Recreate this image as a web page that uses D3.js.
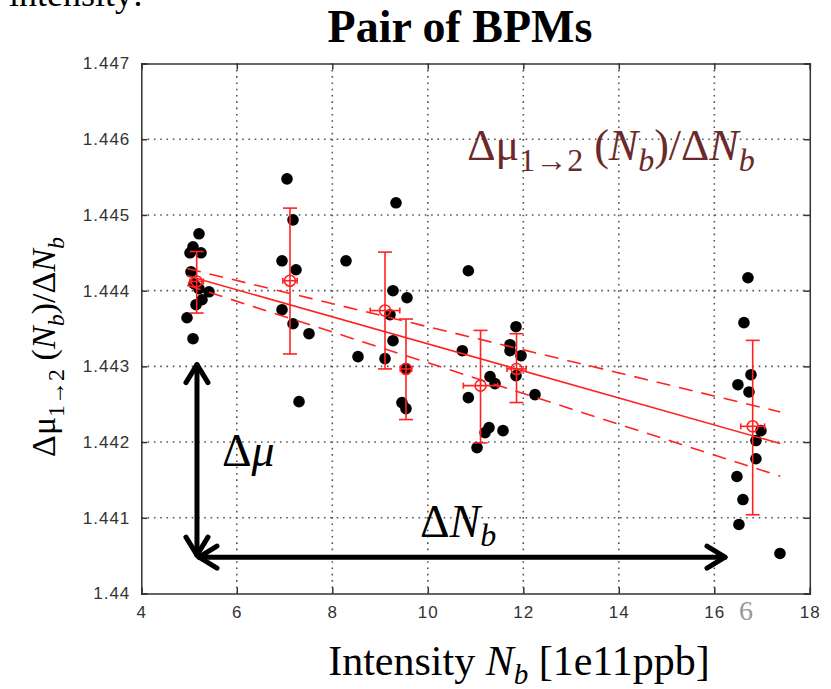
<!DOCTYPE html>
<html><head><meta charset="utf-8">
<script src="https://cdn.jsdelivr.net/npm/d3@7"></script>
<style>body{margin:0;background:#fff}svg{display:block}</style>
</head><body><svg id="c" width="831" height="689"></svg>
<script>
// ---- data ----
const xTicks = [4, 6, 8, 10, 12, 14, 16, 18];
const yTicks = [1.440, 1.441, 1.442, 1.443, 1.444, 1.445, 1.446, 1.447];
const pointX = [5.208,5.083,5.020,5.250,5.041,5.104,5.208,5.418,5.271,5.146,4.957,5.083,
  7.051,7.177,6.947,7.240,6.947,7.177,7.512,7.303,8.287,8.538,
  9.334,9.271,9.564,9.208,9.271,9.104,9.459,9.543,9.543,
  10.849,10.723,10.849,11.303,11.408,11.199,11.282,11.575,11.031,
  11.847,11.722,11.722,11.952,11.847,12.245,
  16.705,16.621,16.768,16.495,16.726,16.977,16.872,16.872,16.474,16.600,16.516,17.375];
const pointY = [1.444751,1.444579,1.444500,1.444500,1.444249,1.444091,1.444025,1.443985,1.443880,1.443814,1.443642,1.443365,
  1.445476,1.444935,1.444394,1.444276,1.443748,1.443563,1.443431,1.442534,1.444394,1.443128,
  1.445160,1.443999,1.443906,1.443682,1.443339,1.443102,1.442521,1.442442,1.442970,
  1.444263,1.443207,1.442587,1.442864,1.442772,1.442125,1.442191,1.442151,1.441927,
  1.443524,1.443286,1.443207,1.443141,1.442877,1.442627,
  1.444170,1.443577,1.442890,1.442758,1.442662,1.442151,1.442020,1.441780,1.441545,1.441241,1.440912,1.440529];
const meanX   = [5.160, 7.114, 9.104, 9.543, 11.104, 11.858, 16.804];
const meanY   = [1.444121, 1.444131, 1.443737, 1.442966, 1.442745, 1.442966, 1.442208];
const errTop  = [1.444517, 1.445090, 1.444509, 1.443625, 1.443475, 1.443431, 1.443343];
const errBot  = [1.443704, 1.443164, 1.442966, 1.442297, 1.441989, 1.442522, 1.441040];
const xErr    = [0.14, 0.15, 0.31, 0.12, 0.36, 0.20, 0.25];
const fitX    = [4.96, 17.38];
const fitY    = [1.444197, 1.441980];
const upperY  = [1.444292, 1.442398];
const lowerY  = [1.444071, 1.441549];
const arrowX  = [5.166, 16.266];
const arrowY  = [1.443049, 1.440480];

// ---- scales ----
const svg = d3.select('#c');
svg.append('rect').attr('width',831).attr('height',689).attr('fill','#fff');
const x = d3.scaleLinear().domain([4,18]).range([141.3,809.8]);
const y = d3.scaleLinear().domain([1.440,1.447]).range([593.5,63.5]);
const red = '#ff2222';

// grid
const grid = svg.append('g').attr('stroke','#555').attr('stroke-width',1.6).attr('stroke-dasharray','1.6,4.7');
grid.selectAll('.gx').data(xTicks.slice(1,-1)).join('line')
  .attr('x1',d=>x(d)).attr('x2',d=>x(d)).attr('y1',y(1.447)).attr('y2',y(1.440));
grid.selectAll('.gy').data(yTicks.slice(1,-1)).join('line')
  .attr('y1',d=>y(d)).attr('y2',d=>y(d)).attr('x1',x(4)).attr('x2',x(18));

// axes
const fmtY = d => String(+d.toFixed(3));
const axStyle = g => {
  g.select('.domain').attr('stroke','#333').attr('stroke-width',1.5);
  g.selectAll('.tick line').attr('stroke','#333').attr('stroke-width',1.5);
  g.selectAll('text').attr('font-family','Liberation Sans, Arial, sans-serif').attr('font-size',17)
    .attr('letter-spacing',1).attr('fill','#333');
};
svg.append('g').attr('transform',`translate(0,${y(1.440)})`)
  .call(d3.axisBottom(x).tickValues(xTicks).tickSize(-6).tickPadding(12).tickFormat(d3.format('d'))).call(axStyle);
svg.append('g').attr('transform',`translate(0,${y(1.447)})`)
  .call(d3.axisTop(x).tickValues(xTicks).tickSize(-6).tickFormat('')).call(axStyle);
svg.append('g').attr('transform',`translate(${x(4)},0)`)
  .call(d3.axisLeft(y).tickValues(yTicks).tickSize(-6).tickPadding(11).tickFormat(fmtY)).call(axStyle);
svg.append('g').attr('transform',`translate(${x(18)},0)`)
  .call(d3.axisRight(y).tickValues(yTicks).tickSize(-6).tickFormat('')).call(axStyle);

// points
svg.append('g').selectAll('circle').data(pointX.map((d,i)=>[d,pointY[i]])).join('circle')
  .attr('cx',d=>x(d[0])).attr('cy',d=>y(d[1])).attr('r',5.8).attr('fill','#000');

// fit lines
const line = d3.line().x(d=>x(d[0])).y(d=>y(d[1]));
const fl = svg.append('g').attr('fill','none').attr('stroke',red).attr('stroke-width',1.6);
fl.append('path').attr('d', line(fitX.map((d,i)=>[d,fitY[i]])));
fl.append('path').attr('d', line(fitX.map((d,i)=>[d,upperY[i]]))).attr('stroke-dasharray','14,9');
fl.append('path').attr('d', line(fitX.map((d,i)=>[d,lowerY[i]]))).attr('stroke-dasharray','14,9');

// error bars
const eb = svg.append('g').attr('stroke',red).attr('stroke-width',1.6).attr('fill','none');
meanX.forEach((mx,i)=>{
  const cx=x(mx), cy=y(meanY[i]), t=y(errTop[i]), b=y(errBot[i]);
  eb.append('line').attr('x1',cx).attr('x2',cx).attr('y1',t).attr('y2',b);
  eb.append('line').attr('x1',cx-7).attr('x2',cx+7).attr('y1',t).attr('y2',t);
  eb.append('line').attr('x1',cx-7).attr('x2',cx+7).attr('y1',b).attr('y2',b);
  const l=x(mx-xErr[i]), r=x(mx+xErr[i]);
  eb.append('line').attr('x1',l).attr('x2',r).attr('y1',cy).attr('y2',cy);
  eb.append('line').attr('x1',l).attr('x2',l).attr('y1',cy-3).attr('y2',cy+3);
  eb.append('line').attr('x1',r).attr('x2',r).attr('y1',cy-3).attr('y2',cy+3);
  eb.append('circle').attr('cx',cx).attr('cy',cy).attr('r',5.5);
});

// arrows
const ar = svg.append('g').attr('stroke','#000').attr('stroke-width',5).attr('fill','none')
  .attr('stroke-linecap','round').attr('stroke-linejoin','round');
const ax0=x(arrowX[0]), ax1=x(arrowX[1]), ayT=y(arrowY[0]), ayB=y(arrowY[1]);
ar.append('line').attr('x1',ax0).attr('x2',ax0).attr('y1',ayT+2).attr('y2',ayB-2);
ar.append('line').attr('x1',ax0+2).attr('x2',ax1-2).attr('y1',ayB).attr('y2',ayB);
ar.append('path').attr('d',`M${ax0-11},${ayT+20}L${ax0},${ayT+2}L${ax0+11},${ayT+20}`);
ar.append('path').attr('d',`M${ax0-11},${ayB-20}L${ax0},${ayB-2}L${ax0+11},${ayB-20}`);
ar.append('path').attr('d',`M${ax0+20},${ayB-11}L${ax0+2},${ayB}L${ax0+20},${ayB+11}`);
ar.append('path').attr('d',`M${ax1-20},${ayB-11}L${ax1-2},${ayB}L${ax1-20},${ayB+11}`);

// texts
const serif = 'Liberation Serif, Times New Roman, serif';
svg.append('text').attr('x',143).attr('y',6).attr('text-anchor','end')
  .attr('font-family',serif).attr('font-size',36).text('intensity:');
svg.append('text').attr('x',460).attr('y',42).attr('text-anchor','middle')
  .attr('font-family',serif).attr('font-size',46).attr('font-weight','bold').text('Pair of BPMs');

function mathLabel(sel, size){
  const sub = Math.round(size*0.72), sh = Math.round(size*0.25);
  sel.append('tspan').text('Δμ');
  sel.append('tspan').attr('font-size',sub).attr('dy',sh).text('1→2');
  sel.append('tspan').attr('dy',-sh).text(' (');
  sel.append('tspan').attr('font-style','italic').text('N');
  sel.append('tspan').attr('font-style','italic').attr('font-size',sub).attr('dy',sh).text('b');
  sel.append('tspan').attr('dy',-sh).text(')/Δ');
  sel.append('tspan').attr('font-style','italic').text('N');
  sel.append('tspan').attr('font-style','italic').attr('font-size',sub).attr('dy',sh).text('b');
}
const yl = svg.append('text').attr('transform','translate(55,347) rotate(-90)').attr('text-anchor','middle')
  .attr('font-family',serif).attr('font-size',34).attr('fill','#000');
mathLabel(yl,34);
const an = svg.append('text').attr('x',611).attr('y',160).attr('text-anchor','middle')
  .attr('font-family',serif).attr('font-size',44).attr('fill','#6b2a2a');
mathLabel(an,44);

const xl = svg.append('text').attr('x',519).attr('y',675).attr('text-anchor','middle')
  .attr('font-family',serif).attr('font-size',42).attr('fill','#000');
xl.append('tspan').text('Intensity ');
xl.append('tspan').attr('font-style','italic').text('N');
xl.append('tspan').attr('font-style','italic').attr('font-size',29).attr('dy',9).text('b');
xl.append('tspan').attr('dy',-9).text(' [1e11ppb]');

const dm = svg.append('text').attr('x',222).attr('y',466).attr('font-family',serif).attr('font-size',46);
dm.append('tspan').text('Δ'); dm.append('tspan').attr('font-style','italic').text('μ');
const dn = svg.append('text').attr('x',420).attr('y',537).attr('font-family',serif).attr('font-size',46);
dn.append('tspan').text('Δ'); dn.append('tspan').attr('font-style','italic').text('N');
dn.append('tspan').attr('font-style','italic').attr('font-size',32).attr('dy',9).text('b');

svg.append('text').attr('x',746).attr('y',620).attr('text-anchor','middle')
  .attr('font-family',serif).attr('font-size',28).attr('fill','#999').text('6');
</script></body></html>
